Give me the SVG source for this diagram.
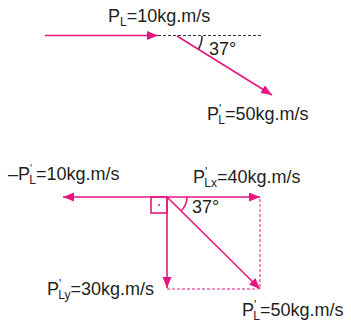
<svg xmlns="http://www.w3.org/2000/svg" width="351" height="322" viewBox="0 0 351 322">
<defs>
<marker id="ah" markerUnits="userSpaceOnUse" markerWidth="12" markerHeight="10" refX="11" refY="4.5" orient="auto">
<path d="M0,0 L11,4.5 L0,9 z" fill="#E5177F"/>
</marker>
<style>
.v{stroke:#E5177F;stroke-width:1.6;fill:none}
.d{stroke:#E5177F;stroke-width:1;fill:none;stroke-dasharray:3 2}
.g{stroke:#333;stroke-width:1;fill:none;stroke-dasharray:3 2}
text{font-family:"Liberation Sans",Arial,sans-serif;font-size:18px;fill:#231F20}
.s{font-size:12px}
.pk{fill:#E5177F}
</style>
</defs>
<rect width="351" height="322" fill="#fff"/>
<g id="connectors">
<line class="v" x1="45" y1="35.5" x2="158" y2="35.5" marker-end="url(#ah)"/>
<line class="g" x1="158" y1="35.5" x2="262" y2="35.5"/>
<line class="v" x1="177" y1="36" x2="272" y2="95" marker-end="url(#ah)"/>
<path class="v" d="M202,36 A25,25 0 0 1 198.5,49" stroke-width="1" style="stroke:#333"/>
<line class="v" x1="167" y1="197" x2="63" y2="197" marker-end="url(#ah)"/>
<line class="v" x1="167" y1="197" x2="260" y2="197" marker-end="url(#ah)"/>
<line class="v" x1="167" y1="197" x2="167" y2="288" marker-end="url(#ah)"/>
<line class="v" x1="167" y1="197" x2="260" y2="289" marker-end="url(#ah)"/>
<line class="d" x1="260" y1="199" x2="260" y2="289"/>
<line class="d" x1="167" y1="289" x2="258" y2="289"/>
<path class="v" d="M187,197 A20,20 0 0 1 181,211" stroke-width="1.2"/>
<rect x="151" y="197" width="16" height="16" class="v" stroke-width="1.3"/>
<circle cx="159" cy="205" r="1" fill="#E5177F"/>
</g>
<g id="top-labels">
<text x="108" y="22">P<tspan class="s" dy="4">L</tspan><tspan dy="-4">=10kg.m/s</tspan></text>
<text x="209" y="55">37°</text>
<text x="207" y="120">P<tspan class="s" dy="-7">'</tspan><tspan class="s" dx="-3" dy="11">L</tspan><tspan dy="-4">=50kg.m/s</tspan></text>
</g>
<g id="bottom-labels">
<text x="8" y="180">–P<tspan class="s pk" dy="-7">'</tspan><tspan class="s" dx="-3" dy="11">L</tspan><tspan dy="-4">=10kg.m/s</tspan></text>
<text x="193" y="183">P<tspan class="s" dy="-7">'</tspan><tspan class="s" dx="-3" dy="11">Lx</tspan><tspan dy="-4">=40kg.m/s</tspan></text>
<text x="192" y="213">37°</text>
<text x="47" y="295">P<tspan class="s" dy="-7">'</tspan><tspan class="s" dx="-3" dy="11">Ly</tspan><tspan dy="-4">=30kg.m/s</tspan></text>
<text x="242" y="316">P<tspan class="s" dy="-7">'</tspan><tspan class="s" dx="-3" dy="11">L</tspan><tspan dy="-4">=50kg.m/s</tspan></text>
</g>
</svg>
